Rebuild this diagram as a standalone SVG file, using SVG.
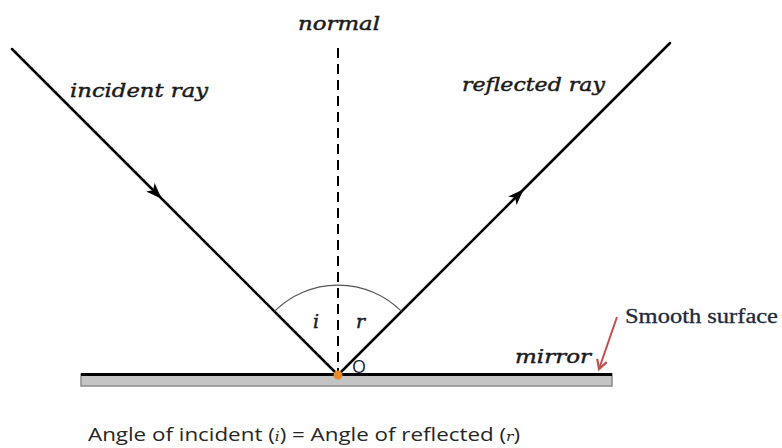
<svg xmlns="http://www.w3.org/2000/svg" width="782" height="448" viewBox="0 0 782 448">
<defs>
<style>
.lbl{font-family:"DejaVu Serif","Liberation Serif",serif;font-style:italic;font-size:19px;fill:#1a1a1a;stroke:#1a1a1a;stroke-width:0.45}
.ray{stroke:#000;stroke-width:2.5;fill:none;stroke-linecap:round}
.cap{font-family:"Open Sans","Liberation Sans",sans-serif;font-size:19px;fill:#262626}
.math{font-family:"DejaVu Serif","Liberation Serif",serif;font-style:italic;font-size:13px}
</style>
<marker id="ah" viewBox="0 0 16 12" refX="8" refY="6" markerWidth="16" markerHeight="12" markerUnits="userSpaceOnUse" orient="auto">
<path d="M0,0 L16,6 L0,12 L4,6 Z" fill="#000"/>
</marker>
<marker id="red" viewBox="0 0 12 12" refX="10" refY="6" markerWidth="12" markerHeight="12" markerUnits="userSpaceOnUse" orient="auto">
<path d="M1,1 L10,6 L1,11" fill="none" stroke="#c0504d" stroke-width="2.2"/>
</marker>
</defs>
<rect width="782" height="448" fill="#fff"/>
<g id="mirror">
<rect x="81" y="374" width="531" height="12" fill="#c4c4c4" stroke="#8a8a8a" stroke-width="1.5"/>
<line x1="81" y1="374.5" x2="612" y2="374.5" stroke="#000" stroke-width="3"/>
<text class="lbl" x="515" y="363" textLength="76" lengthAdjust="spacingAndGlyphs">mirror</text>
</g>
<g id="normal">
<line x1="338" y1="48" x2="338" y2="374" stroke="#000" stroke-width="2" stroke-dasharray="10,6"/>
<text class="lbl" x="298" y="30" textLength="82" lengthAdjust="spacingAndGlyphs">normal</text>
</g>
<g id="connectors">
<path id="incident" class="ray" d="M12,49 L156,193 L338,375" marker-mid="url(#ah)"/>
<path id="reflected" class="ray" d="M338,375 L518,195 L670,43" marker-mid="url(#ah)"/>
<path id="smooth-arrow" d="M617,317 L599,369" stroke="#c0504d" stroke-width="2" fill="none" marker-end="url(#red)"/>
</g>
<g id="angle">
<path d="M274.4,311.4 A90,90 0 0 1 401.6,311.4" fill="none" stroke="#555" stroke-width="1.2"/>
<text class="lbl" x="313" y="328" font-size="22">i</text>
<text class="lbl" x="356" y="328" font-size="22">r</text>
</g>
<g id="point-O">
<circle cx="338" cy="375" r="4.5" fill="#e8892a"/>
<text x="352" y="373" font-family="Open Sans, Liberation Sans, sans-serif" font-size="19" fill="#1a2440" textLength="14" lengthAdjust="spacingAndGlyphs">O</text>
</g>
<g id="labels">
<text class="lbl" x="70" y="97" textLength="138" lengthAdjust="spacingAndGlyphs">incident ray</text>
<text class="lbl" x="462" y="91" textLength="143" lengthAdjust="spacingAndGlyphs">reflected ray</text>
<text x="625" y="323" font-family="Liberation Serif, serif" font-size="20" fill="#1e2a3c" stroke="#1e2a3c" stroke-width="0.3" textLength="153" lengthAdjust="spacingAndGlyphs">Smooth surface</text>
</g>
<g id="caption">
<text class="cap" x="88" y="441" textLength="432" lengthAdjust="spacingAndGlyphs">Angle of incident (<tspan class="math">i</tspan>) = Angle of reflected (<tspan class="math">r</tspan>)</text>
</g>
</svg>
